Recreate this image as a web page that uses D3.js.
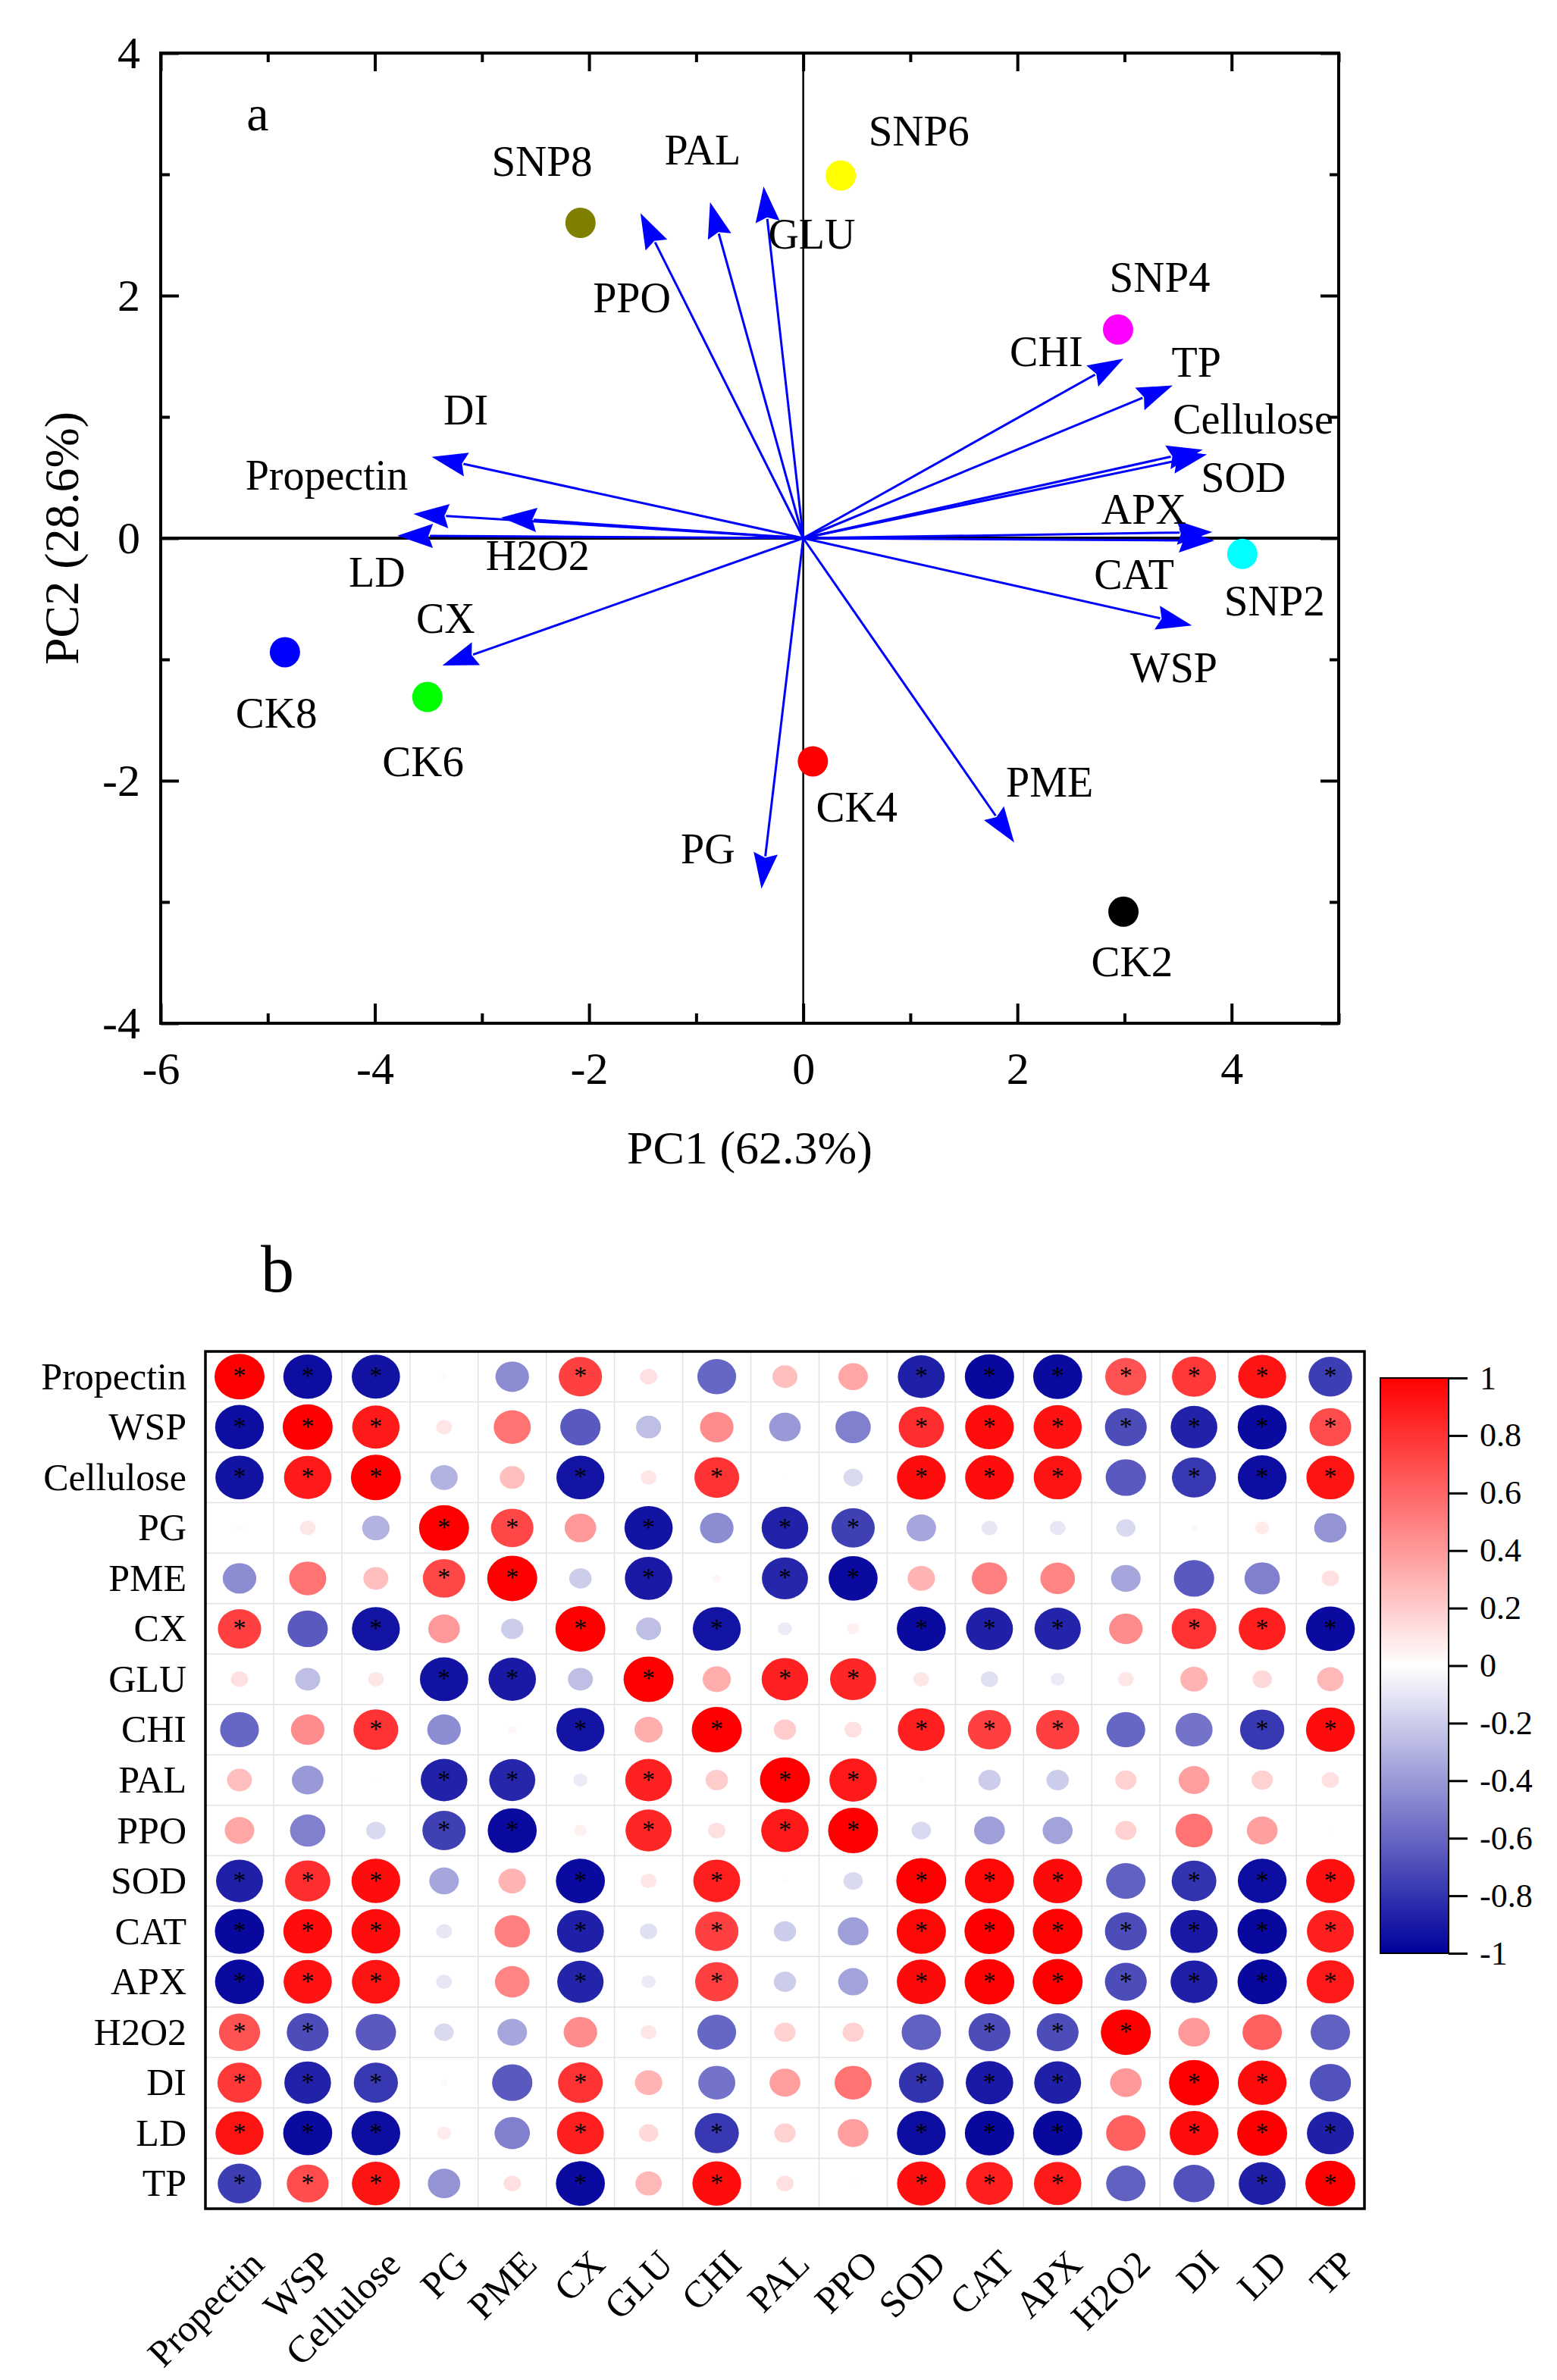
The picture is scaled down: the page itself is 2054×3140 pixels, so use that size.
<!DOCTYPE html>
<html>
<head>
<meta charset="utf-8">
<script src="https://cdn.jsdelivr.net/npm/d3@7"></script>
<style>
  body { margin: 0; background: #fff; }
  text { font-family: "Liberation Serif", "Times New Roman", serif; fill: #000; }
</style>
</head>
<body>
<script>
// ---- panel a : PCA biplot ----
const scoreNames = ['SNP8', 'SNP6', 'SNP4', 'SNP2', 'CK8', 'CK6', 'CK4', 'CK2'];
const scorePC1 = [-2.08, 0.35, 2.94, 4.10, -4.84, -3.51, 0.09, 2.99];
const scorePC2 = [2.60, 2.99, 1.72, -0.13, -0.94, -1.31, -1.84, -3.08];
const scoreColors = ['#808000', '#ffff00', '#ff00ff', '#00ffff', '#0000ff', '#00ff00', '#ff0000', '#000000'];

const loadNames = ['PPO', 'PAL', 'GLU', 'DI', 'Propectin', 'H2O2', 'LD', 'CX', 'PG', 'PME',
  'WSP', 'CAT', 'APX', 'SOD', 'Cellulose', 'TP', 'CHI'];
const loadPC1 = [-1.52, -0.87, -0.37, -3.47, -2.82, -3.64, -3.79, -3.37, -0.39, 1.97,
  3.63, 3.84, 3.82, 3.77, 3.73, 3.45, 2.99];
const loadPC2 = [2.68, 2.77, 2.90, 0.67, 0.17, 0.20, 0.02, -1.05, -2.89, -2.51,
  -0.72, -0.02, 0.05, 0.69, 0.73, 1.26, 1.48];

const xTicks = [-6, -4, -2, 0, 2, 4];
const yTicks = [-4, -2, 0, 2, 4];

// where the names sit (in axis units), kept apart from the values
const scoreLabelAt = {
  SNP8: [-2.44, 2.99], SNP6: [1.08, 3.24], SNP4: [3.33, 2.03], SNP2: [4.40, -0.64],
  CK8: [-4.92, -1.56], CK6: [-3.55, -1.96], CK4: [0.50, -2.34], CK2: [3.07, -3.61]
};
const loadLabelAt = {
  PPO: [-1.60, 1.86], PAL: [-0.94, 3.08], GLU: [0.08, 2.39], DI: [-3.15, 0.94],
  Propectin: [-4.45, 0.40], H2O2: [-2.48, -0.26], LD: [-3.98, -0.40], CX: [-3.34, -0.78],
  PG: [-0.89, -2.68], PME: [2.30, -2.13], WSP: [3.46, -1.19], CAT: [3.09, -0.42],
  APX: [3.18, 0.12], SOD: [4.11, 0.38], Cellulose: [4.20, 0.86], TP: [3.67, 1.33], CHI: [2.27, 1.42]
};

// ---- panel b : correlation matrix ----
const vars = ['Propectin', 'WSP', 'Cellulose', 'PG', 'PME', 'CX', 'GLU', 'CHI', 'PAL', 'PPO',
  'SOD', 'CAT', 'APX', 'H2O2', 'DI', 'LD', 'TP'];
const corr = [
  [1, -0.95, -0.93, 0.02, -0.45, 0.75, 0.12, -0.60, 0.25, 0.35, -0.88, -0.97, -0.96, 0.68, 0.78, 0.92, -0.76],
  [-0.95, 1, 0.90, 0.10, 0.55, -0.65, -0.25, 0.45, -0.40, -0.50, 0.82, 0.95, 0.93, -0.70, -0.87, -0.96, 0.70],
  [-0.93, 0.90, 1, -0.30, 0.25, -0.92, 0.10, 0.80, 0.01, -0.15, 0.95, 0.95, 0.92, -0.65, -0.78, -0.95, 0.92],
  [0.02, 0.10, -0.30, 1, 0.72, 0.40, -0.93, -0.45, -0.87, -0.75, -0.35, -0.10, -0.10, -0.15, -0.02, 0.08, -0.42],
  [-0.45, 0.55, 0.25, 0.72, 1, -0.20, -0.90, 0.03, -0.85, -0.96, 0.30, 0.50, 0.48, -0.35, -0.65, -0.50, 0.12],
  [0.75, -0.65, -0.92, 0.40, -0.20, 1, -0.25, -0.92, -0.08, 0.06, -0.96, -0.88, -0.86, 0.45, 0.80, 0.88, -0.96],
  [0.12, -0.25, 0.10, -0.93, -0.90, -0.25, 1, 0.32, 0.87, 0.85, 0.10, -0.12, -0.08, 0.10, 0.30, 0.15, 0.28],
  [-0.60, 0.45, 0.80, -0.45, 0.03, -0.92, 0.32, 1, 0.20, 0.12, 0.88, 0.75, 0.75, -0.60, -0.55, -0.78, 0.95],
  [0.25, -0.40, 0.01, -0.87, -0.85, -0.08, 0.87, 0.20, 1, 0.90, -0.01, -0.20, -0.20, 0.18, 0.38, 0.18, 0.12],
  [0.35, -0.50, -0.15, -0.75, -0.96, 0.06, 0.85, 0.12, 0.90, 1, -0.15, -0.38, -0.36, 0.18, 0.55, 0.38, 0.01],
  [-0.88, 0.82, 0.95, -0.35, 0.30, -0.96, 0.10, 0.88, -0.01, -0.15, 1, 0.97, 0.96, -0.62, -0.80, -0.95, 0.94],
  [-0.97, 0.95, 0.95, -0.10, 0.50, -0.88, -0.12, 0.75, -0.20, -0.38, 0.97, 1, 0.99, -0.70, -0.90, -0.97, 0.88],
  [-0.96, 0.93, 0.92, -0.10, 0.48, -0.86, -0.08, 0.75, -0.20, -0.36, 0.96, 0.99, 1, -0.70, -0.88, -0.97, 0.90],
  [0.68, -0.70, -0.65, -0.15, -0.35, 0.45, 0.10, -0.60, 0.18, 0.18, -0.62, -0.70, -0.70, 1, 0.40, 0.62, -0.62],
  [0.78, -0.87, -0.78, -0.02, -0.65, 0.80, 0.30, -0.55, 0.38, 0.55, -0.80, -0.90, -0.88, 0.40, 1, 0.95, -0.68],
  [0.92, -0.96, -0.95, 0.08, -0.50, 0.88, 0.15, -0.78, 0.18, 0.38, -0.95, -0.97, -0.97, 0.62, 0.95, 1, -0.88],
  [-0.76, 0.70, 0.92, -0.42, 0.12, -0.96, 0.28, 0.95, 0.12, 0.01, 0.94, 0.88, 0.90, -0.62, -0.68, -0.88, 1]
];
// 1 = significant (star)
const signif = [
  '11100100001111111',
  '11100000001111111',
  '11100101001110111',
  '00011010110000000',
  '00011010110000000',
  '10100101001110111',
  '00011010110000000',
  '00100101001110011',
  '00011010110000000',
  '00011010110000000',
  '11100101001110111',
  '11100101001111111',
  '11100101001111111',
  '11000000000111000',
  '11100100001110110',
  '11100101001110111',
  '11100101001110011'
];
const cbTicks = [1, 0.8, 0.6, 0.4, 0.2, 0, -0.2, -0.4, -0.6, -0.8, -1];

const W = 2054, H = 3140;
const svg = d3.select('body').append('svg')
  .attr('width', W)
  .attr('height', H)
  .attr('style', 'display:block; background:#fff;');

// ================= panel a =================
const x = d3.scaleLinear().domain([-6, 5]).range([212, 1766]);
const y = d3.scaleLinear().domain([-4, 4]).range([1350, 70]);
const pa = svg.append('g').attr('class', 'pca');

const majorX = d3.range(-6, 6, 2), minorX = d3.range(-5, 6, 2);
const majorY = d3.range(-4, 5, 2), minorY = d3.range(-3, 4, 2);

const tickStyle = (g) => {
  g.select('.domain').remove();
  g.selectAll('line').attr('stroke', '#000').attr('stroke-width', 4);
  g.selectAll('text').style('font-size', '60px').attr('font-family', null);
};

pa.append('g').attr('transform', `translate(0,${y(-4)})`)
  .call(d3.axisBottom(x).tickValues(xTicks).tickSizeInner(-26).tickSizeOuter(0).tickPadding(37)
    .tickFormat((d) => String(d)))
  .call(tickStyle);
pa.append('g').attr('transform', `translate(0,${y(-4)})`)
  .call(d3.axisBottom(x).tickValues(minorX).tickSizeInner(-13).tickSizeOuter(0).tickFormat(''))
  .call(tickStyle);
pa.append('g').attr('transform', `translate(0,${y(4)})`)
  .call(d3.axisTop(x).tickValues(majorX).tickSizeInner(-24).tickSizeOuter(0).tickFormat(''))
  .call(tickStyle);
pa.append('g').attr('transform', `translate(0,${y(4)})`)
  .call(d3.axisTop(x).tickValues(minorX).tickSizeInner(-12).tickSizeOuter(0).tickFormat(''))
  .call(tickStyle);
pa.append('g').attr('transform', `translate(${x(-6)},0)`)
  .call(d3.axisLeft(y).tickValues(yTicks).tickSizeInner(-24).tickSizeOuter(0).tickPadding(27)
    .tickFormat((d) => String(d)))
  .call(tickStyle);
pa.append('g').attr('transform', `translate(${x(-6)},0)`)
  .call(d3.axisLeft(y).tickValues(minorY).tickSizeInner(-12).tickSizeOuter(0).tickFormat(''))
  .call(tickStyle);
pa.append('g').attr('transform', `translate(${x(5)},0)`)
  .call(d3.axisRight(y).tickValues(majorY).tickSizeInner(-24).tickSizeOuter(0).tickFormat(''))
  .call(tickStyle);
pa.append('g').attr('transform', `translate(${x(5)},0)`)
  .call(d3.axisRight(y).tickValues(minorY).tickSizeInner(-12).tickSizeOuter(0).tickFormat(''))
  .call(tickStyle);

pa.append('rect')
  .attr('x', x(-6)).attr('y', y(4))
  .attr('width', x(5) - x(-6)).attr('height', y(-4) - y(4))
  .attr('fill', 'none').attr('stroke', '#000').attr('stroke-width', 4);

// zero lines
pa.append('line').attr('x1', x(-6)).attr('x2', x(5)).attr('y1', y(0)).attr('y2', y(0))
  .attr('stroke', '#000').attr('stroke-width', 4);
pa.append('line').attr('x1', x(0)).attr('x2', x(0)).attr('y1', y(4)).attr('y2', y(-4))
  .attr('stroke', '#000').attr('stroke-width', 2.5);

// loading arrows
const loads = loadNames.map((n, i) => ({ name: n, pc1: loadPC1[i], pc2: loadPC2[i] }));
const headLen = 47, headW = 16;
const arrows = pa.append('g').attr('class', 'arrows');
loads.forEach((d) => {
  let x0 = x(0), y0 = y(0), tx = x(d.pc1), ty = y(d.pc2);
  let len = Math.hypot(tx - x0, ty - y0);
  let ux = (tx - x0) / len, uy = (ty - y0) / len;
  let bx = tx - ux * headLen, by = ty - uy * headLen;
  arrows.append('line')
    .attr('x1', x0).attr('y1', y0).attr('x2', bx + ux * 4).attr('y2', by + uy * 4)
    .attr('stroke', '#0000ff').attr('stroke-width', 3);
  arrows.append('path')
    .attr('d', `M${tx},${ty}L${bx - uy * headW},${by + ux * headW}L${bx + ux * 6},${by + uy * 6}L${bx + uy * headW},${by - ux * headW}Z`)
    .attr('fill', '#0000ff');
});

pa.append('g').selectAll('text')
  .data(loads)
  .enter()
  .append('text')
  .attr('x', (d) => x(loadLabelAt[d.name][0]))
  .attr('y', (d) => y(loadLabelAt[d.name][1]))
  .attr('text-anchor', 'middle')
  .style('font-size', '56px')
  .text((d) => d.name);

// scores
const scores = scoreNames.map((n, i) => ({ name: n, pc1: scorePC1[i], pc2: scorePC2[i], col: scoreColors[i] }));
pa.append('g').selectAll('circle')
  .data(scores)
  .enter()
  .append('circle')
  .attr('cx', (d) => x(d.pc1))
  .attr('cy', (d) => y(d.pc2))
  .attr('r', 20)
  .attr('fill', (d) => d.col);

pa.append('g').selectAll('text')
  .data(scores)
  .enter()
  .append('text')
  .attr('x', (d) => x(scoreLabelAt[d.name][0]))
  .attr('y', (d) => y(scoreLabelAt[d.name][1]))
  .attr('text-anchor', 'middle')
  .style('font-size', '57px')
  .text((d) => d.name);

pa.append('text').attr('x', 340).attr('y', 172).attr('text-anchor', 'middle')
  .style('font-size', '66px').text('a');

pa.append('text').attr('x', (x(-6) + x(5)) / 2).attr('y', 1535).attr('text-anchor', 'middle')
  .style('font-size', '62px').text('PC1 (62.3%)');
pa.append('text').attr('transform', `translate(103,${y(0)}) rotate(-90)`)
  .attr('text-anchor', 'middle')
  .style('font-size', '64px').text('PC2 (28.6%)');

// ================= panel b =================
const pb = svg.append('g').attr('class', 'corr');
const cx = d3.scaleBand().domain(vars).range([271, 1800]);
const cy = d3.scaleBand().domain(vars).range([1783, 2914]);
const color = d3.scaleLinear().domain([-1, 0, 1]).range(['#00009c', '#ffffff', '#ff0000']);
const rx = d3.scaleSqrt().domain([0, 1]).range([0, 33]);
const ry = d3.scaleSqrt().domain([0, 1]).range([0, 30]);

// grid
const grid = pb.append('g').attr('stroke', '#e2e2e2').attr('stroke-width', 1.5);
vars.forEach((v, i) => {
  if (i === 0) return;
  grid.append('line').attr('x1', cx(v)).attr('x2', cx(v)).attr('y1', cy.range()[0]).attr('y2', cy.range()[1]);
  grid.append('line').attr('y1', cy(v)).attr('y2', cy(v)).attr('x1', cx.range()[0]).attr('x2', cx.range()[1]);
});

const cells = [];
vars.forEach((rv, i) => {
  vars.forEach((cv, j) => {
    cells.push({ row: rv, col: cv, r: corr[i][j], star: signif[i][j] === '1' });
  });
});

const cellG = pb.append('g').selectAll('g')
  .data(cells)
  .enter()
  .append('g')
  .attr('transform', (d) => `translate(${cx(d.col) + cx.bandwidth() / 2},${cy(d.row) + cy.bandwidth() / 2})`);

cellG.append('ellipse')
  .attr('rx', (d) => rx(Math.abs(d.r)))
  .attr('ry', (d) => ry(Math.abs(d.r)))
  .attr('fill', (d) => color(d.r));

cellG.filter((d) => d.star)
  .append('text')
  .attr('y', 10)
  .attr('text-anchor', 'middle')
  .style('font-size', '34px')
  .text('*');

pb.append('rect')
  .attr('x', 271).attr('y', 1783).attr('width', 1800 - 271).attr('height', 2914 - 1783)
  .attr('fill', 'none').attr('stroke', '#000').attr('stroke-width', 3.5);

// row labels
pb.append('g').selectAll('text')
  .data(vars)
  .enter()
  .append('text')
  .attr('x', 246)
  .attr('y', (d) => cy(d) + cy.bandwidth() / 2)
  .attr('dy', '0.33em')
  .attr('text-anchor', 'end')
  .style('font-size', '50px')
  .text((d) => d);

// column labels
pb.append('g').selectAll('text')
  .data(vars)
  .enter()
  .append('text')
  .attr('transform', (d) => `translate(${cx(d) + cx.bandwidth() / 2 + 35},2990) rotate(-45)`)
  .attr('text-anchor', 'end')
  .style('font-size', '50px')
  .text((d) => d);

pb.append('text').attr('x', 366).attr('y', 1704).attr('text-anchor', 'middle')
  .style('font-size', '88px').text('b');

// colour bar
const cb = d3.scaleLinear().domain([-1, 1]).range([2577, 1818]);
const grad = svg.append('defs').append('linearGradient')
  .attr('id', 'cbgrad').attr('x1', 0).attr('y1', 1).attr('x2', 0).attr('y2', 0);
[-1, 0, 1].forEach((v) => {
  grad.append('stop').attr('offset', `${(v + 1) * 50}%`).attr('stop-color', color(v));
});
pb.append('rect')
  .attr('x', 1821).attr('y', cb(1)).attr('width', 90).attr('height', cb(-1) - cb(1))
  .attr('fill', 'url(#cbgrad)').attr('stroke', '#000').attr('stroke-width', 2);
pb.append('g').attr('transform', 'translate(1911,0)')
  .call(d3.axisRight(cb).tickValues(cbTicks).tickSizeInner(25).tickSizeOuter(0).tickPadding(16)
    .tickFormat((d) => String(+d.toFixed(1))))
  .call((g) => {
    g.select('.domain').remove();
    g.selectAll('line').attr('stroke', '#000').attr('stroke-width', 3);
    g.selectAll('text').style('font-size', '44px').attr('font-family', null);
  });
</script>
</body>
</html>
